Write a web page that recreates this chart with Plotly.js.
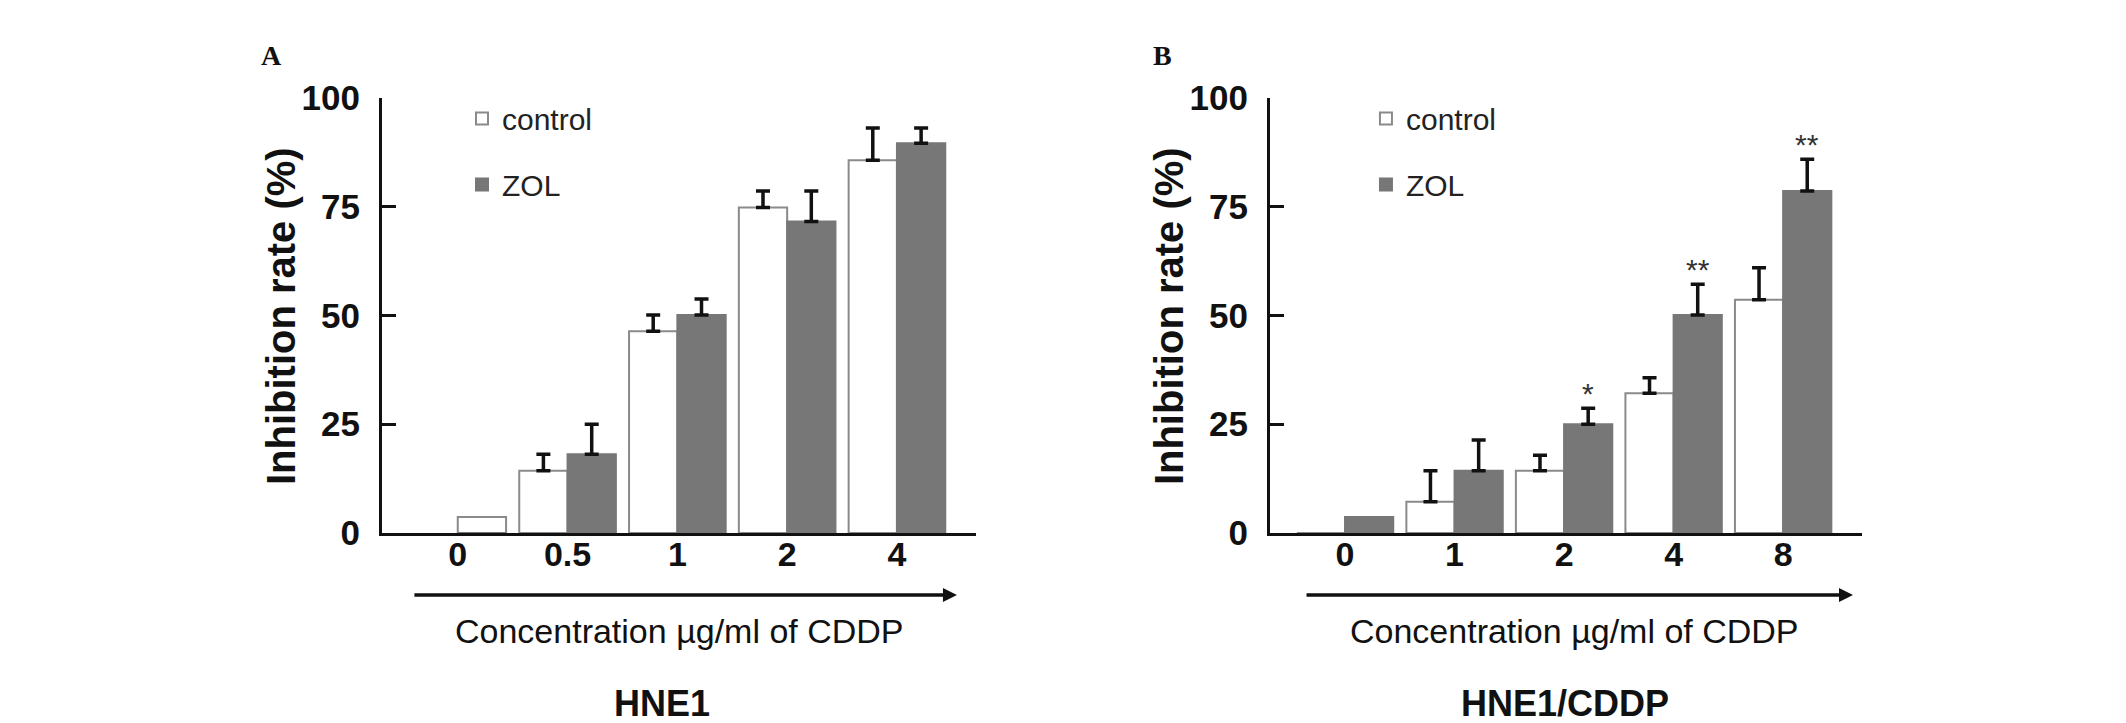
<!DOCTYPE html>
<html>
<head>
<meta charset="utf-8">
<script src="https://cdn.plot.ly/plotly-3.0.1.min.js"></script>
<style>
  html, body { margin: 0; padding: 0; background: #fff; }
  #chart { width: 2126px; height: 723px; }
</style>
</head>
<body>
<div id="chart"></div>
<script>
// Panel A: HNE1 (the open bar at 0 sits in the right-hand slot)
const catsA = ['0', '0.5', '1', '2', '4'];
const controlA = [3.7, 14.3, 46.4, 74.8, 85.7];
const controlAErr = [null, 3.8, 3.7, 3.8, 7.4];
const zolA = [0, 18.1, 50.1, 71.6, 89.6];
const zolAErr = [null, 6.9, 3.7, 7.0, 3.5];

// Panel B: HNE1/CDDP
const catsB = ['0', '1', '2', '4', '8'];
const controlB = [0, 7.2, 14.3, 32.1, 53.6];
const controlBErr = [null, 7.1, 3.6, 3.6, 7.4];
const zolB = [3.7, 14.3, 25.0, 50.1, 78.6];
const zolBErr = [null, 7.1, 3.7, 7.1, 7.3];
const starsB = ['', '', '*', '**', '**'];

const yTicks = [0, 25, 50, 75, 100];

const GRAY = '#777777';
const EDGE = '#8a8a8a';
const FONT = 'Arial, "Liberation Sans", sans-serif';
const BW = 0.44; // bar width in category units

const errBar = (arr) => ({
  type: 'data', symmetric: false,
  array: arr.map(v => (v === null ? NaN : v)),
  arrayminus: arr.map(v => (v === null ? NaN : 0)),
  color: '#111', thickness: 3.5, width: 7
});

// control bars normally sit left of the tick; panel A's lone 0 bar sits right
const offA = controlA.map((v, i) => (zolA[i] === 0 ? 0 : -BW));

const traces = [
  { type: 'bar', name: 'control', x: catsA, y: controlA, xaxis: 'x', yaxis: 'y',
    width: BW, offset: offA,
    marker: { color: '#ffffff', line: { color: EDGE, width: 2 } },
    error_y: errBar(controlAErr), legend: 'legend', legendgroup: 'a1' },
  { type: 'bar', name: 'ZOL', x: catsA, y: zolA, xaxis: 'x', yaxis: 'y',
    width: BW, offset: 0,
    marker: { color: GRAY, line: { color: GRAY, width: 2 } },
    error_y: errBar(zolAErr), legend: 'legend', legendgroup: 'a2' },
  { type: 'bar', name: 'control', x: catsB, y: controlB, xaxis: 'x2', yaxis: 'y2',
    width: BW, offset: -BW,
    marker: { color: '#ffffff', line: { color: EDGE, width: 2 } },
    error_y: errBar(controlBErr), legend: 'legend2', legendgroup: 'b1' },
  { type: 'bar', name: 'ZOL', x: catsB, y: zolB, xaxis: 'x2', yaxis: 'y2',
    width: BW, offset: 0,
    marker: { color: GRAY, line: { color: GRAY, width: 2 } },
    error_y: errBar(zolBErr), legend: 'legend2', legendgroup: 'b2' }
];

const xCommon = {
  type: 'category', range: [-0.69, 4.72], showgrid: false, zeroline: false,
  showline: true, linecolor: '#111', linewidth: 3, ticks: '', ticklabelstandoff: -11,
  tickfont: { family: FONT, size: 34, color: '#111', weight: 'bold' },
  layer: 'below traces', fixedrange: true
};
const yCommon = {
  range: [0, 100], tickvals: yTicks, showgrid: false, zeroline: false,
  showline: true, linecolor: '#111', linewidth: 3,
  ticks: 'inside', ticklen: 14, tickwidth: 3, tickcolor: '#111', ticklabelstandoff: 12,
  tickfont: { family: FONT, size: 35, color: '#111', weight: 'bold' },
  domain: [0.2628, 0.8645], fixedrange: true
};

const annotations = [];
const txt = (text, x, y, size, bold, extra) => Object.assign({
  text: text, xref: 'paper', yref: 'paper', x: x, y: y, showarrow: false,
  xanchor: 'center', yanchor: 'middle',
  font: { family: FONT, size: size, color: '#111', weight: bold ? 'bold' : 'normal' }
}, extra || {});
const serif = { family: '"Liberation Serif", "Times New Roman", serif', size: 28, color: '#111', weight: 'bold' };

annotations.push(txt('Inhibition rate (%)', 0.1322, 0.5629, 40, true, { textangle: -90 }));
annotations.push(txt('Inhibition rate (%)', 0.5499, 0.5629, 40, true, { textangle: -90 }));
annotations.push(txt('Concentration µg/ml of CDDP', 0.3198, 0.1272, 34, false));
annotations.push(txt('Concentration µg/ml of CDDP', 0.7404, 0.1272, 34, false));
annotations.push(txt('HNE1', 0.3114, 0.0263, 36, true));
annotations.push(txt('HNE1/CDDP', 0.7361, 0.0263, 36, true));
annotations.push(txt('A', 0.1275, 0.9239, 28, true, { font: serif }));
annotations.push(txt('B', 0.547, 0.9239, 28, true, { font: serif }));

// concentration arrows under each axis
[[0.4501, -544], [0.8716, -548]].forEach(([tip, len]) => {
  annotations.push({
    text: '', xref: 'paper', yref: 'paper', x: tip, y: 0.177,
    showarrow: true, axref: 'pixel', ayref: 'pixel', ax: len, ay: 0,
    arrowhead: 2, arrowsize: 0.8, arrowwidth: 3.5, arrowcolor: '#111', standoff: 0
  });
});

// significance marks above ZOL bars in panel B
starsB.forEach((s, i) => {
  if (!s) return;
  annotations.push({
    text: s, xref: 'x2', yref: 'y2', x: i + BW / 2, y: zolB[i] + zolBErr[i] + 3.3,
    showarrow: false, xanchor: 'center', yanchor: 'middle',
    font: { family: FONT, size: 30, color: '#333' }
  });
});

const legendCommon = {
  orientation: 'v', xanchor: 'left', yanchor: 'top', bgcolor: 'rgba(0,0,0,0)',
  traceorder: 'grouped', tracegroupgap: 24,
  font: { family: FONT, size: 30, color: '#222' }
};

const layout = {
  width: 2126, height: 723, autosize: false,
  margin: { l: 0, r: 0, t: 0, b: 0 },
  paper_bgcolor: '#ffffff', plot_bgcolor: '#ffffff',
  barmode: 'overlay',
  showlegend: true,
  xaxis: { ...xCommon, domain: [0.17968, 0.45908], anchor: 'y' },
  yaxis: { ...yCommon, anchor: 'x' },
  xaxis2: { ...xCommon, range: [-0.685, 4.72], domain: [0.59737, 0.87582], anchor: 'y2' },
  yaxis2: { ...yCommon, anchor: 'x2' },
  legend: { ...legendCommon, x: 0.2173, y: 0.872 },
  legend2: { ...legendCommon, x: 0.6425, y: 0.872 },
  annotations: annotations
};

Plotly.newPlot('chart', traces, layout, { displayModeBar: false, staticPlot: true });
</script>
</body>
</html>
